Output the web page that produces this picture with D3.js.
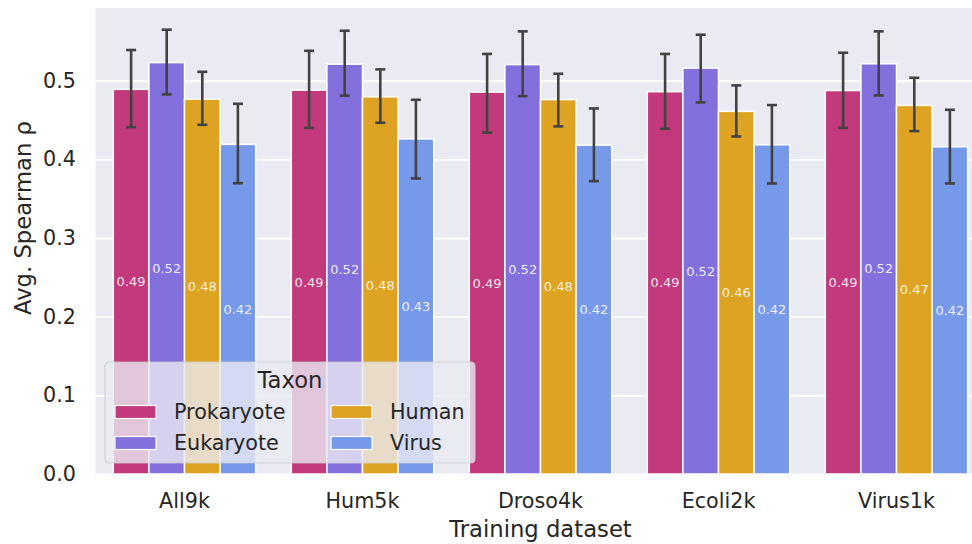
<!DOCTYPE html>
<html>
<head>
<meta charset="utf-8">
<script src="https://cdn.jsdelivr.net/npm/d3@7"></script>
<style>
  body { margin: 0; background: #fff; }
  svg { display: block; font-family: "DejaVu Sans", sans-serif; }
</style>
</head>
<body>
<svg id="chart" width="972" height="544"></svg>
<script>
// training datasets (x categories)
const datasets = ["All9k", "Hum5k", "Droso4k", "Ecoli2k", "Virus1k"];
const taxa = ["Prokaryote", "Eukaryote", "Human", "Virus"];
const taxonColors = ["#c33a7c", "#8470dc", "#dea322", "#7799e9"];

// mean per taxon, one value per dataset
const prokaryoteMean = [0.489, 0.488, 0.4855, 0.486, 0.4875];
const eukaryoteMean  = [0.523, 0.521, 0.5205, 0.516, 0.5215];
const humanMean      = [0.4766, 0.4795, 0.476, 0.461, 0.4686];
const virusMean      = [0.419, 0.426, 0.418, 0.4185, 0.416];

// error bar extents
const prokaryoteLo = [0.441, 0.440, 0.434, 0.4388, 0.440];
const prokaryoteHi = [0.539, 0.538, 0.534, 0.534, 0.5355];
const eukaryoteLo  = [0.4826, 0.481, 0.4804, 0.4724, 0.4813];
const eukaryoteHi  = [0.5648, 0.5635, 0.5627, 0.5584, 0.5627];
const humanLo      = [0.4439, 0.4465, 0.4419, 0.4291, 0.4359];
const humanHi      = [0.5113, 0.5144, 0.5088, 0.494, 0.5037];
const virusLo      = [0.3697, 0.3757, 0.3723, 0.3693, 0.3693];
const virusHi      = [0.4706, 0.4757, 0.4647, 0.469, 0.463];

const yTicks = [0, 0.1, 0.2, 0.3, 0.4, 0.5];

const means = [prokaryoteMean, eukaryoteMean, humanMean, virusMean];
const los = [prokaryoteLo, eukaryoteLo, humanLo, virusLo];
const his = [prokaryoteHi, eukaryoteHi, humanHi, virusHi];

const rows = [];
datasets.forEach((ds, i) => {
  taxa.forEach((t, j) => {
    rows.push({ ds, taxon: t, mean: means[j][i], lo: los[j][i], hi: his[j][i] });
  });
});

const svg = d3.select("#chart");
const plotLeft = 95.5, plotRight = 985.5, plotTop = 8, plotBottom = 474;
const textColor = "#262626";

const x = d3.scaleBand().domain(datasets).range([plotLeft, plotRight]).padding(0);
const xInner = d3.scaleBand().domain(taxa)
  .range([x.bandwidth() * 0.1, x.bandwidth() * 0.9]).padding(0);
const y = d3.scaleLinear().domain([0, 0.5924]).range([plotBottom, plotTop]);
const color = d3.scaleOrdinal().domain(taxa).range(taxonColors);

// background
svg.append("rect")
  .attr("x", plotLeft).attr("y", plotTop)
  .attr("width", plotRight - plotLeft).attr("height", plotBottom - plotTop)
  .attr("fill", "#eaeaf2");

// grid + y tick labels
const yAxis = svg.append("g")
  .attr("transform", `translate(${plotLeft},0)`)
  .call(d3.axisLeft(y).tickValues(yTicks).tickFormat(d3.format(".1f"))
    .tickSize(-(plotRight - plotLeft)).tickPadding(19.5));
yAxis.select(".domain").remove();
yAxis.selectAll("line").attr("stroke", "#fff").attr("stroke-width", 1.9);
yAxis.selectAll("text").attr("fill", textColor).attr("font-size", 20.7)
  .attr("font-family", "DejaVu Sans");

// x tick labels
const xAxis = svg.append("g")
  .attr("transform", `translate(0,${plotBottom})`)
  .call(d3.axisBottom(x).tickSize(0).tickPadding(19.3));
xAxis.select(".domain").remove();
xAxis.selectAll("text").attr("fill", textColor).attr("font-size", 20.7)
  .attr("font-family", "DejaVu Sans");

// bars
svg.append("g").selectAll("rect")
  .data(rows)
  .join("rect")
  .attr("x", d => x(d.ds) + xInner(d.taxon))
  .attr("width", xInner.bandwidth())
  .attr("y", d => y(d.mean))
  .attr("height", d => y(0) - y(d.mean))
  .attr("fill", d => color(d.taxon))
  .attr("stroke", "#fff")
  .attr("stroke-width", 1.5);

// error bars
const cap = 5;
const err = svg.append("g").attr("stroke", "#424242").attr("stroke-width", 2.6);
rows.forEach(d => {
  const cx = x(d.ds) + xInner(d.taxon) + xInner.bandwidth() / 2;
  err.append("line").attr("x1", cx).attr("x2", cx).attr("y1", y(d.lo)).attr("y2", y(d.hi));
  err.append("line").attr("x1", cx - cap).attr("x2", cx + cap).attr("y1", y(d.lo)).attr("y2", y(d.lo));
  err.append("line").attr("x1", cx - cap).attr("x2", cx + cap).attr("y1", y(d.hi)).attr("y2", y(d.hi));
});

// value labels in the middle of each bar
svg.append("g").selectAll("text")
  .data(rows)
  .join("text")
  .attr("x", d => x(d.ds) + xInner(d.taxon) + xInner.bandwidth() / 2)
  .attr("y", d => y(d.mean / 2))
  .attr("dy", "0.35em")
  .attr("text-anchor", "middle")
  .attr("font-size", 13)
  .attr("fill", "#fff")
  .attr("fill-opacity", 0.88)
  .text(d => d.mean.toFixed(2));

// axis titles
svg.append("text")
  .attr("x", (plotLeft + plotRight) / 2).attr("y", 537)
  .attr("text-anchor", "middle")
  .attr("font-size", 22.7).attr("fill", textColor)
  .text("Training dataset");
svg.append("text")
  .attr("transform", "translate(31,218) rotate(-90)")
  .attr("text-anchor", "middle")
  .attr("font-size", 22.7).attr("fill", textColor)
  .text("Avg. Spearman ρ");

// legend
const legend = svg.append("g").attr("transform", "translate(105,362)");
legend.append("rect")
  .attr("width", 370).attr("height", 101).attr("rx", 4)
  .attr("fill", "#eaeaf2").attr("fill-opacity", 0.8)
  .attr("stroke", "#cccccc").attr("stroke-opacity", 0.8).attr("stroke-width", 1.2);
legend.append("text")
  .attr("x", 185).attr("y", 26)
  .attr("text-anchor", "middle")
  .attr("font-size", 22.7).attr("fill", textColor)
  .text("Taxon");
const legendCols = [0, 216];
const legendRows = [50, 81];
taxa.forEach((t, j) => {
  const col = legendCols[Math.floor(j / 2)];
  const row = legendRows[j % 2];
  legend.append("rect")
    .attr("x", 10 + col).attr("y", row - 6.5)
    .attr("width", 41).attr("height", 13)
    .attr("fill", color(t)).attr("stroke", "#fff").attr("stroke-width", 1.2);
  legend.append("text")
    .attr("x", 69 + col).attr("y", row)
    .attr("dy", "0.36em")
    .attr("font-size", 20.7).attr("fill", textColor)
    .text(t);
});
</script>
</body>
</html>
